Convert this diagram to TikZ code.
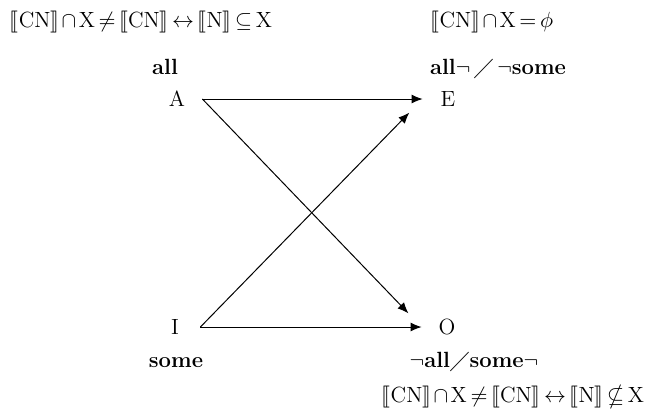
\documentclass[tikz,border=0pt]{standalone}
\usepackage{amsmath,amssymb,stmaryrd}
\usepackage{fontspec}
\usepackage{tikz}
\usetikzlibrary{arrows.meta}
\newcommand{\den}[1]{\llbracket\mathrm{#1}\rrbracket}
\medmuskip=2mu
\thickmuskip=3mu

\begin{document}
\begin{tikzpicture}[x=0.5pt,y=-0.5pt,>={Latex[length=5.5pt,width=4.5pt]},
    every node/.style={font=\fontsize{11pt}{13pt}\selectfont},
    corner/.style={minimum width=25pt,inner xsep=0pt,inner ysep=0pt},
    quant/.style={font=\fontsize{11pt}{13pt}\selectfont\bfseries,anchor=base},
    formula/.style={anchor=base},
    arr/.style={->,line width=0.5pt},
    cross/.style={arr,shorten >=9.5pt}]
  \useasboundingbox (0,0) rectangle (660,409);
  % the four corners
  \node[corner] (A) at (177,99) {A};
  \node[corner] (E) at (448,99) {E};
  \node[corner] (I) at (175,327) {I};
  \node[corner] (O) at (447,327) {O};
  \draw[arr] (A.east)--(E.west);
  \draw[arr] (I.east)--(O.west);
  \draw[cross] (A.east)--(O.west);
  \draw[cross] (I.east)--(E.west);
  % quantifiers
  \node[quant] (all) at (165,74) {all};
  \node[quant] (allnot) at (498,74) {all$\neg$\,$\diagup$\,$\neg$some};
  \node[quant] (some) at (176,367) {some};
  \node[quant] (notall) at (474,367) {$\neg$all$\diagup$some$\neg$};
  % set conditions
  \node[formula] (condA) at (141,27) {$\den{CN}\cap\mathrm{X}\neq\den{CN}\leftrightarrow\den{N}\subseteq\mathrm{X}$};
  \node[formula] (condE) at (492,27) {$\den{CN}\cap\mathrm{X}=\phi$};
  \node[formula] (condO) at (513,402) {$\den{CN}\cap\mathrm{X}\neq\den{CN}\leftrightarrow\den{N}\nsubseteq\mathrm{X}$};
\end{tikzpicture}
\end{document}
